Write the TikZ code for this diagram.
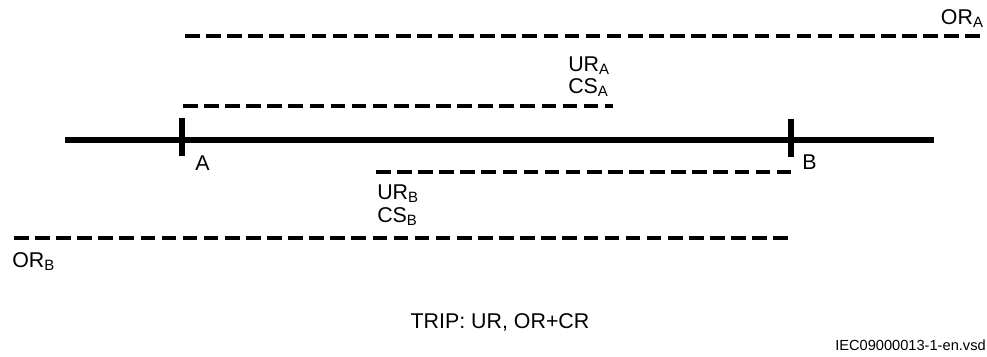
\documentclass[tikz,border=0pt]{standalone}
\usepackage{fontspec}
\setmainfont{Liberation Sans}
\usetikzlibrary{positioning}
\tikzset{
    bus line/.style={
        line width=4pt,
        black
    },
    relay reach/.style={
        line width=2.4pt,
        black,
        dash pattern=on 10.4pt off 4.6pt
    },
    zone label/.style={
        inner sep=0pt,
        font=\fontsize{15.2}{18}\selectfont
    }
}

\begin{document}
\begin{tikzpicture}[x=0.025cm, y=-0.025cm]
    \useasboundingbox (0,0) rectangle (987,356);
    % line and breakers
    \coordinate (L1) at (65,140);
    \coordinate (L2) at (934,140);
    \coordinate (TA1) at (182,118);
    \coordinate (TA2) at (182,156);
    \coordinate (TB1) at (791,119);
    \coordinate (TB2) at (791,157);
    \draw [bus line] (L1) -- (L2);
    \draw [bus line] (TA1) -- (TA2);
    \draw [bus line] (TB1) -- (TB2);
    % reaches
    \coordinate (ORA1) at (185,36);
    \coordinate (ORA2) at (986,36);
    \coordinate (URA1) at (183,106);
    \coordinate (URA2) at (613,106);
    \coordinate (URB1) at (376,172);
    \coordinate (URB2) at (793,172);
    \coordinate (ORB1) at (14,238);
    \coordinate (ORB2) at (792,238);
    \draw [relay reach] (ORA1) -- (ORA2);
    \draw [relay reach] (URA1) -- (URA2);
    \draw [relay reach] (URB1) -- (URB2);
    \draw [relay reach] (ORB1) -- (ORB2);
    % labels
    \node [zone label, anchor=base east] (ORAlab) at (984,24) {OR\textsubscript{A}};
    \node [zone label, anchor=base west] (URAlab) at (568,71) {UR\textsubscript{A}};
    \node [zone label, anchor=base west] (CSAlab) at (568,93) {CS\textsubscript{A}};
    \node [zone label, anchor=base west] (Alab) at (195,170) {A};
    \node [zone label, anchor=base west] (Blab) at (802,169) {B};
    \node [zone label, anchor=base west] (URBlab) at (377,199) {UR\textsubscript{B}};
    \node [zone label, anchor=base west] (CSBlab) at (377,222) {CS\textsubscript{B}};
    \node [zone label, anchor=base west] (ORBlab) at (12,267) {OR\textsubscript{B}};
    \node [zone label, anchor=base] (trip) at (500,328) {TRIP: UR, OR+CR};
    \node [inner sep=0pt, anchor=base east, font=\fontsize{10.4}{12}\selectfont] (docid) at (986,350) {IEC09000013-1-en.vsd};
\end{tikzpicture}
\end{document}
